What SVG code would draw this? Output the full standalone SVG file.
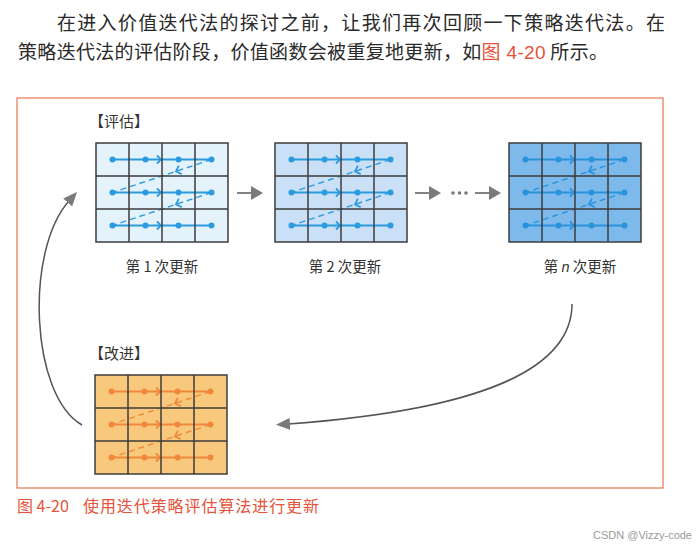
<svg xmlns="http://www.w3.org/2000/svg" xmlns:xlink="http://www.w3.org/1999/xlink" width="700" height="547" viewBox="0 0 700 547">
<style>
.body{font-family:"Noto Sans CJK SC","Liberation Sans",sans-serif;font-size:19px;fill:#2a2a2a}
.lbl{font-family:"Noto Sans CJK SC","Liberation Sans",sans-serif;font-size:14.5px;fill:#333;text-anchor:middle}
.ttl{font-family:"Noto Sans CJK SC","Liberation Sans",sans-serif;font-size:15px;fill:#333}
.red{fill:#e5533a}
.cap{font-family:"Noto Sans CJK SC","Liberation Sans",sans-serif;font-size:16px;fill:#e5533a}
.grid{stroke:#3d3d3d;stroke-width:1.5;fill:none}
.conn{stroke:#555;stroke-width:1.5;fill:none}
.sarrow{stroke:#777;stroke-width:1.8;fill:none}
.ahead{fill:#7a7a7a}
</style>
<defs>
<g id="cells">
<rect x="0" y="0" width="132" height="99" class="grid"/>
<path class="grid" d="M33,0V99M66,0V99M99,0V99M0,33H132M0,66H132"/>
</g>
<g id="sweep" fill="none" stroke="currentColor" stroke-width="1.8">
<path d="M16.5,16.5H115.5M16.5,49.5H115.5M16.5,82.5H115.5"/>
<path d="M61,12.5L65,16.5L61,20.5M61,45.5L65,49.5L61,53.5M61,78.5L65,82.5L61,86.5"/>
<path d="M115.5,16.5L16.5,49.5M115.5,49.5L16.5,82.5" stroke-dasharray="6,4" stroke-width="1.4"/>
<g transform="translate(80,28.3) rotate(161.6)"><path d="M-4.5,-4.5L0,0L-4.5,4.5"/></g>
<g transform="translate(80,61.3) rotate(161.6)"><path d="M-4.5,-4.5L0,0L-4.5,4.5"/></g>
<g fill="currentColor" stroke="none">
<circle cx="16.5" cy="16.5" r="3"/><circle cx="49.5" cy="16.5" r="3"/><circle cx="82.5" cy="16.5" r="3"/><circle cx="115.5" cy="16.5" r="3"/>
<circle cx="16.5" cy="49.5" r="3"/><circle cx="49.5" cy="49.5" r="3"/><circle cx="82.5" cy="49.5" r="3"/><circle cx="115.5" cy="49.5" r="3"/>
<circle cx="16.5" cy="82.5" r="3"/><circle cx="49.5" cy="82.5" r="3"/><circle cx="82.5" cy="82.5" r="3"/><circle cx="115.5" cy="82.5" r="3"/>
</g>
</g>
<marker id="head" viewBox="0 0 14 12" refX="2" refY="6" markerWidth="14" markerHeight="12" markerUnits="userSpaceOnUse" orient="auto">
<path d="M0,0L14,6L0,12z" fill="#7a7a7a"/>
</marker>
</defs>
<rect width="700" height="547" fill="#fff"/>
<text class="body" x="57" y="30" textLength="608" lengthAdjust="spacing">在进入价值迭代法的探讨之前，让我们再次回顾一下策略迭代法。在</text>
<text class="body" x="18" y="59" textLength="590" lengthAdjust="spacing">策略迭代法的评估阶段，价值函数会被重复地更新，如<tspan class="red" font-family="Liberation Sans, Noto Sans CJK SC, sans-serif">图 4-20</tspan> 所示。</text>
<rect x="17" y="98" width="646" height="390" fill="none" stroke="#e8805e" stroke-width="1.3"/>
<text class="ttl" x="89" y="127">【评估】</text>
<text class="ttl" x="89" y="359">【改进】</text>
<g id="eval1">
<g transform="translate(96,143)"><rect width="132" height="99" fill="#e4f2fb"/><use xlink:href="#sweep" style="color:#2b9be0"/><use xlink:href="#cells"/></g>
<text class="lbl" x="162" y="272">第 1 次更新</text>
</g>
<g id="eval2">
<g transform="translate(275,143)"><rect width="132" height="99" fill="#c9e0f6"/><use xlink:href="#sweep" style="color:#2b9be0"/><use xlink:href="#cells"/></g>
<text class="lbl" x="345" y="272">第 2 次更新</text>
</g>
<g id="evaln">
<g transform="translate(509,143)"><rect width="132" height="99" fill="#7db9ea"/><use xlink:href="#sweep" style="color:#2a93dc"/><use xlink:href="#cells"/></g>
<text class="lbl" x="580" y="272">第 <tspan font-style="italic" font-family="Liberation Sans, sans-serif">n</tspan> 次更新</text>
</g>
<g id="improve">
<g transform="translate(95,375)"><rect width="132" height="99" fill="#f8c97c"/><use xlink:href="#sweep" style="color:#f0883c"/><use xlink:href="#cells"/></g>
</g>
<g id="connectors">
<path class="sarrow" d="M237,193H252"/><path class="ahead" d="M251,186L263,193L251,200z"/>
<path class="sarrow" d="M415,193H430"/><path class="ahead" d="M429,186L441,193L429,200z"/>
<g fill="#777"><circle cx="453" cy="193" r="1.8"/><circle cx="459.5" cy="193" r="1.8"/><circle cx="466" cy="193" r="1.8"/></g>
<path class="sarrow" d="M475,193H490"/><path class="ahead" d="M489,186L501,193L489,200z"/>
<path class="conn" d="M572,304C572,370 480,410 288,424" marker-end="url(#head)"/>
<path class="conn" d="M82,425C30,395 25,250 69,201" marker-end="url(#head)"/>
</g>
<text class="cap" x="17" y="512">图 4-20<tspan x="83" textLength="236" lengthAdjust="spacing">使用迭代策略评估算法进行更新</tspan></text>
<text x="692" y="539" text-anchor="end" font-family="Liberation Sans, sans-serif" font-size="11" fill="#9a9a9a">CSDN @Vizzy-code</text>
</svg>
